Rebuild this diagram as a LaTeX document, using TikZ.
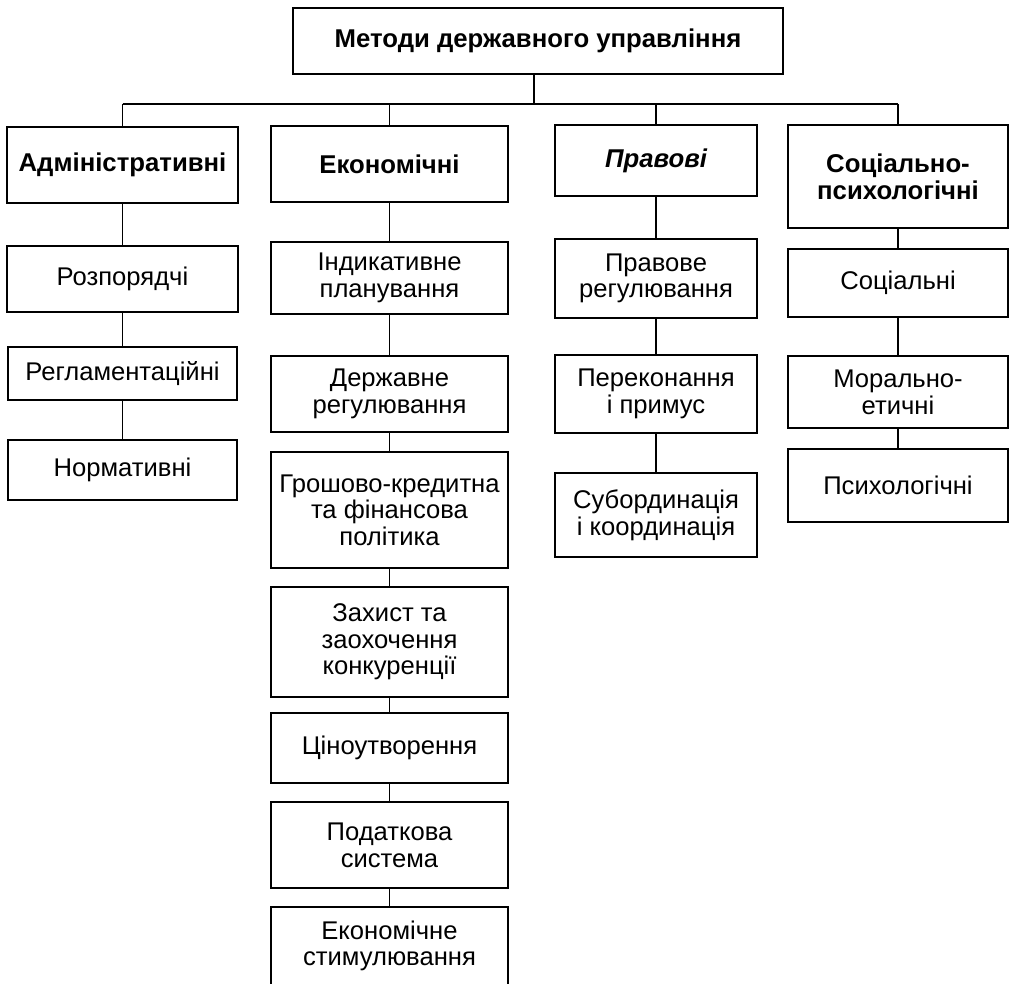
\documentclass[tikz,border=0pt]{standalone}
\usepackage{fontspec}
\setmainfont{Liberation Sans}
\newcommand\bx[6]{\node[#1,minimum width={(#4-#2)*0.75pt},minimum height={(#5-#3)*0.75pt}] (#6) at ({(#2+#4)/2},{(#3+#5)/2})}
\begin{document}
\begin{tikzpicture}[x=0.75pt,y=-0.75pt,
  box/.style={draw=black,line width=1.4pt,inner sep=0pt,align=center,
    font=\fontsize{19.2}{20}\selectfont},
  head/.style={box,font=\fontsize{19.3}{20.3}\bfseries\selectfont},
  conn/.style={line width=1.3pt}]
\useasboundingbox (0,0) rectangle (1010,988);
\clip (0,0) rectangle (1010,983.5);
% top
\bx{head}{293}{8}{783}{74}{top} {Методи державного управління};
% level 1
\bx{head}{7}{127}{238}{203}{adm} {Адміністративні};
\bx{head}{271}{126}{508}{202}{eco} {Економічні};
\bx{head}{555}{125}{757}{196}{law} {\itshape Правові};
\bx{head}{788}{125}{1008}{228}{soc} {Соціально-\\психологічні};
% administrative
\bx{box}{7}{246}{238}{312}{a1} {Розпорядчі};
\bx{box}{8}{347}{237}{400}{a2} {Регламентаційні};
\bx{box}{8}{440}{237}{500}{a3} {Нормативні};
% economic
\bx{box}{271}{242}{508}{314}{e1} {Індикативне\\планування};
\bx{box}{271}{356}{508}{432}{e2} {Державне\\регулювання};
\bx{box}{271}{452}{508}{568}{e3} {Грошово-кредитна\\та фінансова\\політика};
\bx{box}{271}{587}{508}{697}{e4} {Захист та\\заохочення\\конкуренції};
\bx{box}{271}{713}{508}{783}{e5} {Ціноутворення};
\bx{box}{271}{802}{508}{888}{e6} {Податкова\\система};
\bx{box}{271}{907}{508}{985}{e7} {Економічне\\стимулювання};
% legal
\bx{box}{555}{239}{757}{318}{l1} {Правове\\регулювання};
\bx{box}{555}{355}{757}{433}{l2} {Переконання\\і примус};
\bx{box}{555}{473}{757}{557}{l3} {Субординація\\і координація};
% socio-psychological
\bx{box}{788}{249}{1008}{317}{s1} {Соціальні};
\bx{box}{788}{356}{1008}{428}{s2} {Морально-\\етичні};
\bx{box}{788}{449}{1008}{522}{s3} {Психологічні};
% bus
\coordinate (bus) at (534,104);
\draw[conn] ([xshift=-3pt]top.south) -- ([xshift=-3pt]top.south |- bus);
\draw[conn] (adm.north |- bus) -- (soc.north |- bus);
\foreach \n in {adm,eco,law,soc} \draw[conn] (\n.north |- bus) -- (\n.north);
% chains
\draw[conn] (adm) -- (a1) (a1) -- (a2) (a2) -- (a3);
\draw[conn] (eco) -- (e1) (e1) -- (e2) (e2) -- (e3) (e3) -- (e4) (e4) -- (e5) (e5) -- (e6) (e6) -- (e7);
\draw[conn] (law) -- (l1) (l1) -- (l2) (l2) -- (l3);
\draw[conn] (soc) -- (s1) (s1) -- (s2) (s2) -- (s3);
\end{tikzpicture}
\end{document}
